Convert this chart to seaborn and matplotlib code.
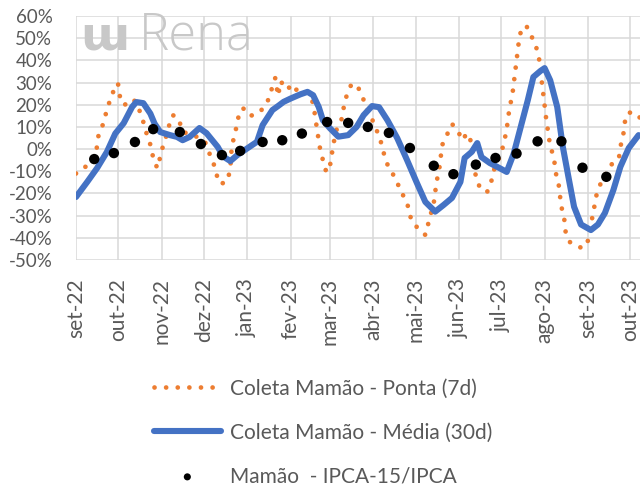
import matplotlib
matplotlib.use("Agg")
import matplotlib.pyplot as plt
import seaborn as sns
import pandas as pd
import numpy as np

# ---------------- data ----------------
ponta_dates = [
    "2022-09-01", "2022-09-05", "2022-09-10", "2022-09-13", "2022-09-16", "2022-09-17",
    "2022-09-20", "2022-09-22", "2022-09-24", "2022-09-27", "2022-09-29", "2022-10-01",
    "2022-10-02", "2022-10-05", "2022-10-08", "2022-10-11", "2022-10-14", "2022-10-18",
    "2022-10-20", "2022-10-22", "2022-10-25", "2022-10-26", "2022-10-29", "2022-10-31",
    "2022-11-02", "2022-11-05", "2022-11-07", "2022-11-09", "2022-11-13", "2022-11-16",
    "2022-11-19", "2022-11-23", "2022-11-28", "2022-12-02", "2022-12-05", "2022-12-08",
    "2022-12-10", "2022-12-13", "2022-12-18", "2022-12-20", "2022-12-21", "2022-12-23",
    "2022-12-25", "2022-12-26", "2022-12-29", "2023-01-03", "2023-01-07", "2023-01-10",
    "2023-01-14", "2023-01-17", "2023-01-19", "2023-01-21", "2023-01-23", "2023-01-25",
    "2023-01-28", "2023-01-30", "2023-02-03", "2023-02-06", "2023-02-11", "2023-02-16",
    "2023-02-18", "2023-02-20", "2023-02-22", "2023-02-24", "2023-02-26", "2023-02-28",
    "2023-03-02", "2023-03-03", "2023-03-06", "2023-03-10", "2023-03-11", "2023-03-13",
    "2023-03-16", "2023-03-20", "2023-03-23", "2023-03-26", "2023-03-28", "2023-03-31",
    "2023-04-03", "2023-04-06", "2023-04-10", "2023-04-14", "2023-04-18", "2023-04-20",
    "2023-04-23", "2023-04-25", "2023-04-28", "2023-05-03", "2023-05-08", "2023-05-10",
    "2023-05-14", "2023-05-16", "2023-05-18", "2023-05-20", "2023-05-23", "2023-05-27",
    "2023-05-29", "2023-06-01", "2023-06-03", "2023-06-07", "2023-06-10", "2023-06-13",
    "2023-06-16", "2023-06-21", "2023-06-24", "2023-06-25", "2023-06-28", "2023-07-01",
    "2023-07-03", "2023-07-05", "2023-07-06", "2023-07-07", "2023-07-09", "2023-07-10",
    "2023-07-11", "2023-07-12", "2023-07-13", "2023-07-14", "2023-07-16", "2023-07-19",
    "2023-07-21", "2023-07-23", "2023-07-26", "2023-07-28", "2023-07-29", "2023-07-30",
    "2023-07-31", "2023-08-01", "2023-08-02", "2023-08-03", "2023-08-04", "2023-08-06",
    "2023-08-08", "2023-08-09", "2023-08-11", "2023-08-12", "2023-08-13", "2023-08-15",
    "2023-08-16", "2023-08-19", "2023-08-25", "2023-08-28", "2023-08-31", "2023-09-02",
    "2023-09-03", "2023-09-05", "2023-09-06", "2023-09-08", "2023-09-11", "2023-09-15",
    "2023-09-19", "2023-09-23", "2023-09-24", "2023-09-26", "2023-09-27", "2023-09-29",
    "2023-10-03", "2023-10-06", "2023-10-09",
]
ponta_values = [
    -11, -8.8, -7.3, -4.7, 1, 6,
    10.8, 15.3, 19.8, 24.7, 29.3, 29.3,
    24.3, 19.8, 20.7, 22.5, 21.2, 14.4,
    10, 5.4, 0.3, -4.5, -8.6, -3.6,
    1.4, 7.2, 12.2, 15.3, 14, 7.7,
    7.2, 5.9, 5.4, 3.2, -1.8, -6.3,
    -11.3, -15.8, -14.4, -8.6, 1, 6.3,
    11.7, 15.3, 18.5, 14.9, 15.8, 16.7,
    19.8, 23.4, 28.4, 32, 24, 30.6,
    27.5, 28.4, 25.2, 27.5, 26, 23,
    16.7, 8, 0, -5, -9.5, -10.3,
    -4.5, 1, 9.4, 14.4, 19.8, 24.3,
    28.8, 29.3, 25.2, 20.7, 16.2, 13.5,
    9, 4, -5.8, -10.3, -14.8, -18.9,
    -21.6, -24.3, -32, -36, -38.7, -33.8,
    -24.3, -14.8, -8.6, 1.8, 5.9, 11.3,
    10, 7.2, 4, 7.2, 2.7, -12.6,
    -17.6, -19.4, -14.8, -10.8, -6.3, -1.8,
    2.7, 9, 14, 18.5, 24.3, 29.7,
    34.7, 40, 45, 50.4, 55, 55.4,
    53.6, 50.4, 46, 41, 35.6, 30.2,
    24.8, 19.8, 14.4, 10, 5, -0.5,
    -5.8, -10.8, -15.8, -21.2, -26, -31.5,
    -37.4, -41.9, -44, -44.6, -43.2, -38.7,
    -33.3, -28.4, -23, -18.5, -14, -9.5,
    -5.8, -4, 1, 5.9, 11.7, 16.2,
    16.7, 15.3, 13.5,
]

media_dates = [
    "2022-09-01", "2022-09-09", "2022-09-16", "2022-09-23", "2022-09-29", "2022-10-05",
    "2022-10-11", "2022-10-14", "2022-10-19", "2022-10-24", "2022-10-27", "2022-10-31",
    "2022-11-07", "2022-11-12", "2022-11-16", "2022-11-21", "2022-11-28", "2022-12-03",
    "2022-12-11", "2022-12-15", "2022-12-20", "2022-12-25", "2023-01-01", "2023-01-08",
    "2023-01-12", "2023-01-19", "2023-01-23", "2023-01-27", "2023-02-01", "2023-02-08",
    "2023-02-13", "2023-02-17", "2023-02-21", "2023-02-24", "2023-03-01", "2023-03-07",
    "2023-03-14", "2023-03-20", "2023-03-25", "2023-03-31", "2023-04-05", "2023-04-11",
    "2023-04-18", "2023-04-25", "2023-05-02", "2023-05-08", "2023-05-15", "2023-05-21",
    "2023-05-27", "2023-06-02", "2023-06-05", "2023-06-10", "2023-06-14", "2023-06-17",
    "2023-06-23", "2023-06-30", "2023-07-05", "2023-07-10", "2023-07-15", "2023-07-20",
    "2023-07-24", "2023-07-29", "2023-08-01", "2023-08-05", "2023-08-10", "2023-08-14",
    "2023-08-18", "2023-08-22", "2023-08-27", "2023-09-03", "2023-09-08", "2023-09-13",
    "2023-09-19", "2023-09-24", "2023-09-30", "2023-10-07",
]
media_values = [
    -21.6, -14.8, -8.6, -1.3, 7, 11.7,
    19, 21.2, 20.7, 16, 11.5, 7.7,
    6.3, 5.5, 4, 5.5, 9.5, 7.2,
    1, -3.4, -5.4, -2.7, 0.3, 3.3,
    10.8, 17.6, 19.4, 21.3, 22.8, 24.7,
    25.8, 24.3, 19, 13, 9.4, 5.6,
    6.3, 10, 15.3, 19.4, 18.9, 13,
    4.9, -5, -15.3, -23.8, -28.2, -25.2,
    -22, -14.8, -4, -1.3, 2.7, -3.6,
    -6.3, -8.6, -10.3, -2, 10, 22,
    32.5, 35.2, 36.5, 31, 19, 1,
    -12.6, -26, -34, -36.5, -34, -28.8,
    -18.5, -8, 0.5, 6.3,
]

ipca_dates = [
    "2022-09-14", "2022-09-28", "2022-10-13", "2022-10-26", "2022-11-14", "2022-11-29",
    "2022-12-14", "2022-12-27", "2023-01-12", "2023-01-26", "2023-02-09", "2023-02-27",
    "2023-03-14", "2023-03-28", "2023-04-12", "2023-04-27", "2023-05-14", "2023-05-28",
    "2023-06-13", "2023-06-27", "2023-07-12", "2023-07-27", "2023-08-13", "2023-08-28",
    "2023-09-14",
]
ipca_values = [
    -4.5, -1.8, 3.2, 9, 7.7, 2.3,
    -2.7, -0.8, 3.2, 4, 7, 12.2,
    11.8, 10, 7.3, 0.5, -7.5, -11.3,
    -7, -4, -2, 3.5, 3.5, -8.4,
    -12.5,
]

month_ticks = [
    "2022-09-01", "2022-10-01", "2022-11-01", "2022-12-01", "2023-01-01", "2023-02-01",
    "2023-03-01", "2023-04-01", "2023-05-01", "2023-06-01", "2023-07-01", "2023-08-01",
    "2023-09-01", "2023-10-01",
]
month_labels = [
    "set-22", "out-22", "nov-22", "dez-22", "jan-23", "fev-23", "mar-23",
    "abr-23", "mai-23", "jun-23", "jul-23", "ago-23", "set-23", "out-23",
]
y_ticks = [-50, -40, -30, -20, -10, 0, 10, 20, 30, 40, 50, 60]

label_ponta = "Coleta Mamão - Ponta (7d)"
label_media = "Coleta Mamão - Média (30d)"
label_ipca = "Mamão  - IPCA-15/IPCA"

# ---------------- styling ----------------
sns.set_theme(style="white")
plt.rcParams["font.family"] = ["Lato", "DejaVu Sans"]
plt.rcParams["axes.unicode_minus"] = False

TXT = "#595959"
GRID = "#d9d9d9"
ORANGE = "#ED7D31"
BLUE = "#4472C4"

df_ponta = pd.DataFrame({"date": pd.to_datetime(ponta_dates), "v": ponta_values})
df_media = pd.DataFrame({"date": pd.to_datetime(media_dates), "v": media_values})
df_ipca = pd.DataFrame({"date": pd.to_datetime(ipca_dates), "v": ipca_values})

fig = plt.figure(figsize=(6.4, 4.88), dpi=100)
ax = fig.add_axes([76 / 640, 1 - 260 / 488, 1 - 76 / 640, (260 - 16) / 488])

# watermark (drawn first, behind data)
fig.text(80 / 640, 1 - 50 / 488, "ɯ", fontsize=34, fontweight="bold", color="#c8c8c8",
         family="DejaVu Sans", ha="left", va="baseline", zorder=0)
fig.text(139 / 640, 1 - 50 / 488, "Rena", fontsize=36.5, fontweight="light", color="#c8c8c8",
         family=["Open Sans", "DejaVu Sans"], ha="left", va="baseline", zorder=0)

sns.lineplot(data=df_ponta, x="date", y="v", ax=ax, color=ORANGE, lw=3.4,
             dashes=False, label=label_ponta, zorder=3)
ln_ponta = ax.lines[-1]
ln_ponta.set_linestyle((0, (0.01, 2.45)))
ln_ponta.set_dash_capstyle("round")

sns.lineplot(data=df_media, x="date", y="v", ax=ax, color=BLUE, lw=4.4,
             label=label_media, zorder=4)
ax.lines[-1].set_solid_capstyle("round")

sns.scatterplot(data=df_ipca, x="date", y="v", ax=ax, color="black", s=56,
                edgecolor="none", label=label_ipca, zorder=5)

ax.set_xlim(pd.Timestamp("2022-09-01"), pd.Timestamp("2022-09-01") + pd.Timedelta(days=402))
ax.set_ylim(-50, 60)
ax.set_yticks(y_ticks)
ax.set_yticklabels([f"{v}%" for v in y_ticks])
ax.set_xticks(pd.to_datetime(month_ticks))
ax.set_xticklabels(month_labels, rotation=90, va="top", ha="center")
ax.set_xlabel("")
ax.set_ylabel("")
ax.grid(True, color=GRID, lw=1.1)
ax.set_axisbelow(True)
ax.patch.set_alpha(0)
for s in ax.spines.values():
    s.set_visible(False)
ax.tick_params(axis="y", length=0, pad=17, labelsize=13.5, labelcolor=TXT)
ax.tick_params(axis="x", length=0, pad=13, labelsize=15, labelcolor=TXT)

# legend below plot
handles, labels = ax.get_legend_handles_labels()
ax.get_legend().remove()
leg = fig.legend(handles, labels, loc="center", bbox_to_anchor=(0.505, 0.114),
                 frameon=False, ncol=1, fontsize=15, handlelength=3.2,
                 handletextpad=0.45, labelspacing=1.15)
for t in leg.get_texts():
    t.set_color(TXT)
leg.legend_handles[2].set_sizes([26])

fig.savefig("out.png", dpi=100, facecolor="white")
